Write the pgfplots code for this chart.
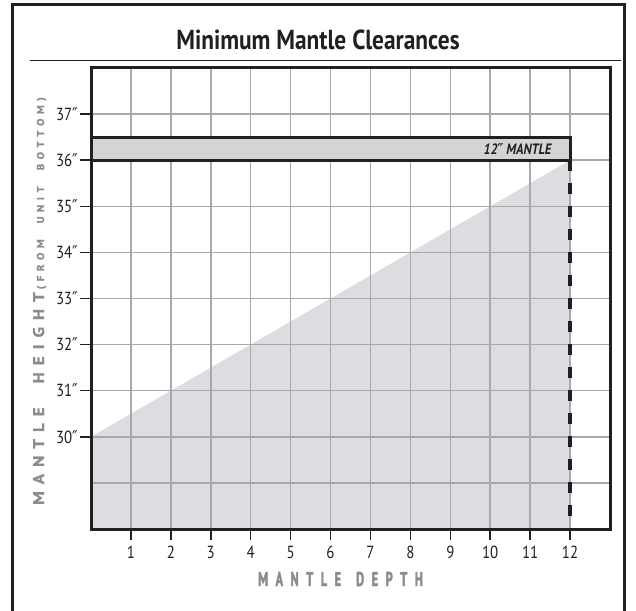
\documentclass[border=0pt]{standalone}
\usepackage{fontspec}
\usepackage{pgfplots}
\pgfplotsset{compat=1.18}
\setmainfont{PT Sans}
\newfontfamily\condfont[FakeStretch=0.85]{PT Sans}
\newfontfamily\xlabfont[FakeStretch=0.62, BoldFeatures={FakeBold=2}]{PT Sans}
\newfontfamily\ylabfont[FakeStretch=1.1, BoldFeatures={FakeBold=1.2}]{PT Sans}
\newfontfamily\primefont[FakeStretch=0.85]{DejaVu Sans}
\newcommand\dprime{{\primefont ″}}
\newcommand\xk{\kern7.5pt}
\newcommand\yk{\kern7pt}
\newcommand\sk{\kern4.5pt}
\definecolor{framecol}{HTML}{231F20}
\definecolor{areagray}{HTML}{DCDDE0}
\definecolor{bargray}{HTML}{D3D4D6}
\definecolor{gridgray}{HTML}{A7A9AC}
\definecolor{labgray}{HTML}{8A8C8F}
\begin{document}
\begin{tikzpicture}
\path (0,0) rectangle (636pt,610pt);
\begin{axis}[
  set layers,
  at={(91pt,81pt)}, anchor=south west,
  scale only axis, width=519pt, height=461pt,
  xmin=0, xmax=13, ymin=28, ymax=38,
  clip=false,
  xtick={1,...,12},
  xticklabels={1,2,3,4,5,6,7,8,9,10,11,12},
  ytick={30,...,37},
  yticklabels={30\dprime,31\dprime,32\dprime,33\dprime,34\dprime,35\dprime,36\dprime,37\dprime},
  extra y ticks={29},
  extra y tick labels={},
  extra y tick style={grid=major, major tick length=0pt},
  xtick pos=bottom, ytick pos=left,
  tick align=outside,
  major tick length=11pt,
  tick style={draw=framecol, line width=1.5pt},
  grid=major,
  major grid style={draw=gridgray, line width=1.5pt},
  axis line style={draw=framecol, line width=3pt},
  tick label style={font=\condfont\fontsize{17.5}{20}\selectfont, text=framecol},
  yticklabel style={inner xsep=2pt},
  xticklabel style={inner ysep=6pt},
]
\addplot[fill=areagray, draw=none, on layer=axis background] coordinates {(0,28) (0,30) (12,36) (12,28)} -- cycle;
\addplot[fill=bargray, draw=framecol, line width=3pt] coordinates {(0,36) (0,36.5) (12,36.5) (12,36)} -- cycle;
\addplot[draw=framecol, line width=3.5pt, dash pattern=on 11pt off 12pt] coordinates {(12,36) (12,28)};
\node[anchor=east, font={\condfont\bfseries\itshape\fontsize{15}{17}\selectfont}, text=framecol] at (axis cs:11.62,36.25) {12\dprime\ MANTLE};
\end{axis}
\useasboundingbox (0,0) rectangle (636pt,610pt);
% outer frame
\draw[line width=3pt, color=framecol] (12.5pt,-20pt) rectangle (624.5pt,605pt);
% title
\node[font={\condfont\bfseries\fontsize{27.5}{31}\selectfont}, color=framecol] at (318pt,570pt) {Minimum Mantle Clearances};
\draw[line width=1pt, color=framecol] (30pt,549pt) -- (621pt,549pt);
% y label
\node[rotate=90, color=labgray, anchor=base, inner sep=0pt] at (44pt,309pt)
  {{\ylabfont\bfseries\fontsize{15.5}{18}\selectfont M\yk A\yk N\yk T\yk L\yk E\kern24pt H\yk E\yk I\yk G\yk H\yk T}\kern3pt{\ylabfont\bfseries\fontsize{10}{12}\selectfont (\sk F\sk R\sk O\sk M\kern16pt U\sk N\sk I\sk T\kern16pt B\sk O\sk T\sk T\sk O\sk M\sk )}};
% x label
\node[color=labgray, anchor=base, inner sep=0pt] at (340.5pt,24pt)
  {\xlabfont\bfseries\fontsize{20}{22}\selectfont M\xk A\xk N\xk T\xk L\xk E\kern15pt D\xk E\xk P\xk T\xk H};
\end{tikzpicture}
\end{document}
